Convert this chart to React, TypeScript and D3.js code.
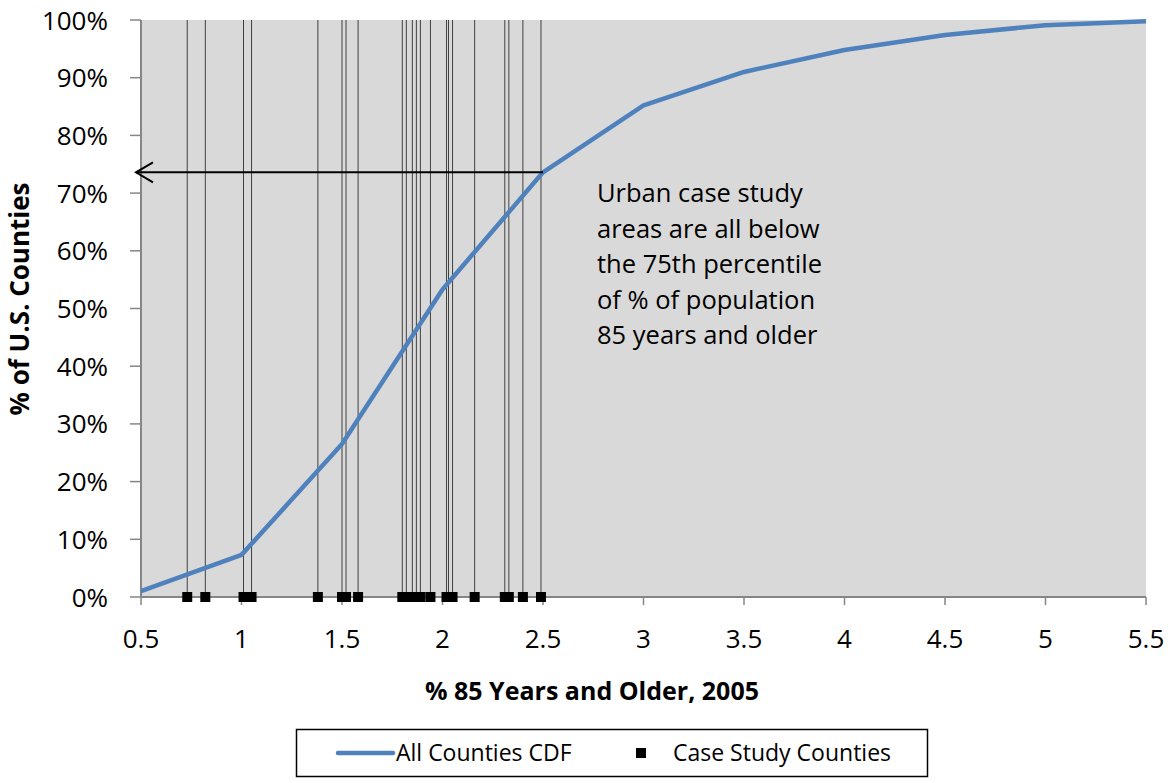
import React from "react";
import * as d3 from "d3";

// CDF of the share of population aged 85+ across all U.S. counties
const cdfX = [0.5, 1, 1.5, 2, 2.5, 3, 3.5, 4, 4.5, 5, 5.5];
const cdfY = [0.01, 0.073, 0.265, 0.533, 0.736, 0.852, 0.91, 0.948, 0.974, 0.991, 0.998];

// Case study counties (% 85 years and older)
const caseStudyX = [
  0.73, 0.82, 1.01, 1.05, 1.38, 1.5, 1.52, 1.58, 1.8, 1.82, 1.85, 1.87, 1.89, 1.94,
  2.02, 2.03, 2.05, 2.16, 2.31, 2.33, 2.4, 2.49,
];

const xTicks = [0.5, 1, 1.5, 2, 2.5, 3, 3.5, 4, 4.5, 5, 5.5];
const yTicks = [0, 0.1, 0.2, 0.3, 0.4, 0.5, 0.6, 0.7, 0.8, 0.9, 1];

const annotationLines = [
  "Urban case study",
  "areas are all below",
  "the 75th percentile",
  "of % of population",
  "85 years and older",
];

// 75th-percentile marker: from the last case-study county back to the y axis
const arrowX = 2.5;
const arrowY = 0.736;

const W = 1175;
const H = 783;
const FONT = "'Open Sans', sans-serif";

export default function App() {
  const x = d3.scaleLinear().domain([0.5, 5.5]).range([141, 1146]);
  const y = d3.scaleLinear().domain([0, 1]).range([597, 20]);

  const line = d3
    .line<number>()
    .x((_, i) => x(cdfX[i]))
    .y((d) => y(d));

  const axisColor = "#868686";
  const tipX = x(0.5) - 5;
  const ay = y(arrowY);

  return (
    <svg
      width={W}
      height={H}
      style={{ position: "absolute", left: 0, top: 0, background: "#fff" }}
      fontFamily={FONT}
    >
      {/* plot area */}
      <rect x={x(0.5)} y={y(1)} width={x(5.5) - x(0.5)} height={y(0) - y(1)} fill="#d9d9d9" />

      {/* case-study reference lines */}
      {caseStudyX.map((v, i) => (
        <line key={"v" + i} x1={x(v)} x2={x(v)} y1={y(0)} y2={y(1)} stroke="#404040" strokeWidth={1} />
      ))}

      {/* axes */}
      <line x1={x(0.5)} x2={x(0.5)} y1={y(0)} y2={y(1)} stroke={axisColor} strokeWidth={2} />
      <line x1={x(0.5)} x2={x(5.5)} y1={y(0)} y2={y(0)} stroke={axisColor} strokeWidth={2} />
      {yTicks.map((t) => (
        <g key={"yt" + t}>
          <line x1={x(0.5) - 11} x2={x(0.5)} y1={y(t)} y2={y(t)} stroke={axisColor} strokeWidth={1.5} />
          <text x={108} y={y(t) + 9.5} textAnchor="end" fontSize={26} fill="#000">
            {Math.round(t * 100)}%
          </text>
        </g>
      ))}
      {xTicks.map((t) => (
        <g key={"xt" + t}>
          <line x1={x(t)} x2={x(t)} y1={y(0)} y2={y(0) + 8} stroke={axisColor} strokeWidth={1.5} />
          <text x={x(t)} y={648} textAnchor="middle" fontSize={26} fill="#000">
            {String(t)}
          </text>
        </g>
      ))}

      {/* CDF curve */}
      <path d={line(cdfY) || ""} fill="none" stroke="#4f81bd" strokeWidth={4.5} strokeLinejoin="round" />

      {/* case-study markers */}
      {caseStudyX.map((v, i) => (
        <rect key={"m" + i} x={x(v) - 5} y={y(0) - 5} width={10} height={10} fill="#000" />
      ))}

      {/* arrow to the y axis */}
      <line x1={x(arrowX)} x2={tipX} y1={ay} y2={ay} stroke="#000" strokeWidth={2} />
      <path
        d={`M${tipX + 17},${ay - 10} L${tipX},${ay} L${tipX + 17},${ay + 10}`}
        fill="none"
        stroke="#000"
        strokeWidth={2}
      />

      {/* annotation */}
      {annotationLines.map((s, i) => (
        <text key={"a" + i} x={597} y={202 + i * 35.6} fontSize={25.5} fill="#000">
          {s}
        </text>
      ))}

      {/* axis titles */}
      <text x={592} y={700} textAnchor="middle" fontSize={25} fontWeight="bold" fill="#000">
        % 85 Years and Older, 2005
      </text>
      <text
        transform={`translate(29,${299}) rotate(-90)`}
        textAnchor="middle"
        fontSize={26}
        fontWeight="bold"
        fill="#000"
      >
        % of U.S. Counties
      </text>

      {/* legend */}
      <rect x={296.5} y={729.5} width={631} height={47} fill="#fff" stroke="#000" strokeWidth={1.5} />
      <line x1={338} x2={393} y1={753} y2={753} stroke="#4f81bd" strokeWidth={4.5} strokeLinecap="round" />
      <text x={396} y={761} fontSize={23} fill="#000">
        All Counties CDF
      </text>
      <rect x={636} y={748} width={10} height={10} fill="#000" />
      <text x={673} y={761} fontSize={23} fill="#000">
        Case Study Counties
      </text>
    </svg>
  );
}
